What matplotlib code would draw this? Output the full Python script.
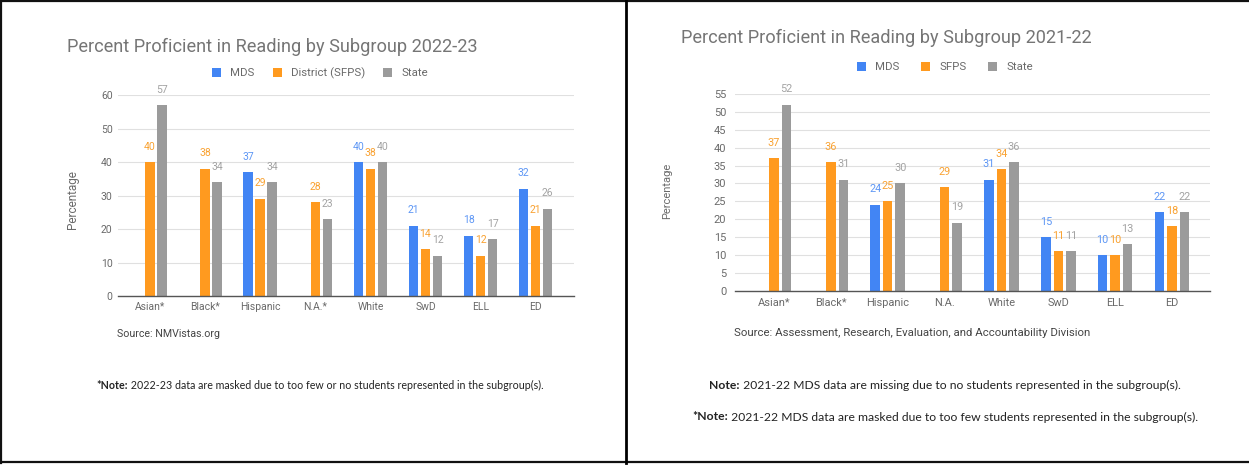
import matplotlib
matplotlib.use("Agg")
import matplotlib.pyplot as plt
from matplotlib.patches import Patch
from matplotlib.lines import Line2D
import numpy as np

W, H, DPI = 1249, 465, 100

# ---- data -------------------------------------------------------------
subgroups_2223 = ["Asian*", "Black*", "Hispanic", "N.A.*", "White", "SwD", "ELL", "ED"]
series_2223 = ["MDS", "District (SFPS)", "State"]
mds_2223 = [None, None, 37, None, 40, 21, 18, 32]
district_2223 = [40, 38, 29, 28, 38, 14, 12, 21]
state_2223 = [57, 34, 34, 23, 40, 12, 17, 26]
yticks_2223 = [0, 10, 20, 30, 40, 50, 60]

subgroups_2122 = ["Asian*", "Black*", "Hispanic", "N.A.", "White", "SwD", "ELL", "ED"]
series_2122 = ["MDS", "SFPS", "State"]
mds_2122 = [None, None, 24, None, 31, 15, 10, 22]
sfps_2122 = [37, 36, 25, 29, 34, 11, 10, 18]
state_2122 = [52, 31, 30, 19, 36, 11, 13, 22]
yticks_2122 = [0, 5, 10, 15, 20, 25, 30, 35, 40, 45, 50, 55]

# ---- style ------------------------------------------------------------
BAR_COLORS = ["#4285F4", "#FF9A1F", "#9B9B9B"]
LABEL_COLORS = ["#5E97F5", "#F9A232", "#A3A3A3"]
CHART_FONT = ["Roboto", "DejaVu Sans"]
NOTE_FONT = ["Lato", "DejaVu Sans"]
TEXT_GRAY = "#6A6A6A"
TITLE_GRAY = "#757575"

plt.rcParams["font.family"] = CHART_FONT

fig = plt.figure(figsize=(W / DPI, H / DPI), dpi=DPI)
fig.patch.set_facecolor("white")


def fx(px):
    return px / W


def fy(py):
    return 1 - py / H


def draw_chart(left, right, top, bottom, first_center, spacing, pitch, bar_w,
               cats, names, values, yticks, ytop, xpad, ypad, tick_fs, label_fs):
    ax = fig.add_axes([fx(left), fy(bottom), fx(right - left), (bottom - top) / H])
    # category positions expressed in category units
    x0 = -(first_center - left) / spacing
    x1 = (right - first_center) / spacing
    ax.set_xlim(x0, x1)
    ax.set_ylim(0, ytop)
    x = np.arange(len(cats))
    dx = pitch / spacing
    bw = bar_w / spacing
    for k, (vals, color, lcolor, name) in enumerate(zip(values, BAR_COLORS, LABEL_COLORS, names)):
        xs = [xi + (k - 1) * dx for xi, v in zip(x, vals) if v is not None]
        hs = [v for v in vals if v is not None]
        ax.bar(xs, hs, width=bw, color=color, label=name, zorder=3)
        for xi, h in zip(xs, hs):
            ax.annotate(f"{h}", (xi, h), xytext=(0, 7.5), textcoords="offset points",
                        ha="center", va="bottom", fontsize=label_fs, color=lcolor,
                        annotation_clip=False, zorder=4)
    ax.set_yticks(yticks)
    ax.set_xticks(x)
    ax.set_xticklabels(cats)
    ax.tick_params(axis="both", length=0, labelsize=tick_fs, colors=TEXT_GRAY)
    ax.tick_params(axis="x", pad=xpad)
    ax.tick_params(axis="y", pad=ypad)
    ax.yaxis.grid(True, color="#E0E0E0", lw=0.8, zorder=0)
    for s in ["top", "right", "left"]:
        ax.spines[s].set_visible(False)
    ax.spines["bottom"].set_color("#555555")
    ax.spines["bottom"].set_linewidth(1.0)
    ax.spines["bottom"].set_zorder(5)
    ax.set_facecolor("none")
    return ax


def legend_at(cx, cy, names, fs, colsp):
    handles = [Patch(facecolor=c, edgecolor="none") for c in BAR_COLORS]
    fig.legend(handles, names, loc="center", bbox_to_anchor=(fx(cx), fy(cy)), ncol=3,
               frameon=False, fontsize=fs, handlelength=0.8, handleheight=0.8,
               handletextpad=0.8, columnspacing=colsp, labelcolor=TEXT_GRAY)


def note_line(cx, cy, bold, rest, fs):
    r = fig.canvas.get_renderer()
    t1 = fig.text(0, fy(cy), bold, fontsize=fs, fontweight="bold", family=NOTE_FONT,
                  color="#222222", va="center", ha="left")
    t2 = fig.text(0, fy(cy), rest, fontsize=fs, family=NOTE_FONT,
                  color="#222222", va="center", ha="left")
    w1 = t1.get_window_extent(r).width
    w2 = t2.get_window_extent(r).width
    start = cx - (w1 + w2) / 2
    t1.set_x(fx(start))
    t2.set_x(fx(start + w1))


# ---- 2022-23 panel ----------------------------------------------------
draw_chart(117.5, 574, 95, 296, 150, 55.1, 12, 9.5,
           subgroups_2223, series_2223, [mds_2223, district_2223, state_2223],
           yticks_2223, 60, xpad=4.5, ypad=3.5, tick_fs=7.5, label_fs=7.5)
fig.text(fx(67), fy(47), "Percent Proficient in Reading by Subgroup 2022-23",
         fontsize=13.1, color=TITLE_GRAY, va="center", ha="left")
legend_at(320, 73, series_2223, 8.2, 1.6)
fig.text(fx(73), fy(200), "Percentage", rotation=90, fontsize=8.5, color=TEXT_GRAY,
         va="center", ha="center")
fig.text(fx(117), fy(334), "Source: NMVistas.org", fontsize=7.7, color="#444444",
         va="center", ha="left")
note_line(320, 385, "*Note:",
          " 2022-23 data are masked due to too few or no students represented in the subgroup(s).",
          7.7)

# ---- 2021-22 panel ----------------------------------------------------
draw_chart(734.6, 1210, 94, 290.7, 774, 56.86, 12.5, 9.5,
           subgroups_2122, series_2122, [mds_2122, sfps_2122, state_2122],
           yticks_2122, 55, xpad=5, ypad=6, tick_fs=7.9, label_fs=7.8)
fig.text(fx(681), fy(38), "Percent Proficient in Reading by Subgroup 2021-22",
         fontsize=13.1, color=TITLE_GRAY, va="center", ha="left")
legend_at(945, 67, series_2122, 8.2, 1.9)
fig.text(fx(667), fy(191), "Percentage", rotation=90, fontsize=8, color=TEXT_GRAY,
         va="center", ha="center")
fig.text(fx(734), fy(333), "Source: Assessment, Research, Evaluation, and Accountability Division",
         fontsize=8.2, color="#444444", va="center", ha="left")
note_line(945, 385, "Note:",
          " 2021-22 MDS data are missing due to no students represented in the subgroup(s).",
          8.7)
note_line(945, 417, "*Note:",
          " 2021-22 MDS data are masked due to too few students represented in the subgroup(s).",
          8.7)

# ---- frame lines ------------------------------------------------------
frame_kw = dict(color="#111111", lw=1.6, transform=fig.transFigure, zorder=10)
fig.add_artist(Line2D([0, 1], [fy(1), fy(1)], **frame_kw))
fig.add_artist(Line2D([0, 1], [fy(462), fy(462)], **frame_kw))
fig.add_artist(Line2D([fx(1), fx(1)], [fy(0), fy(463)], **frame_kw))
fig.add_artist(Line2D([fx(626), fx(626)], [fy(0), fy(463)], color="#000000", lw=2.0,
                      transform=fig.transFigure, zorder=10))

fig.savefig("out.png", dpi=DPI, facecolor="white")
